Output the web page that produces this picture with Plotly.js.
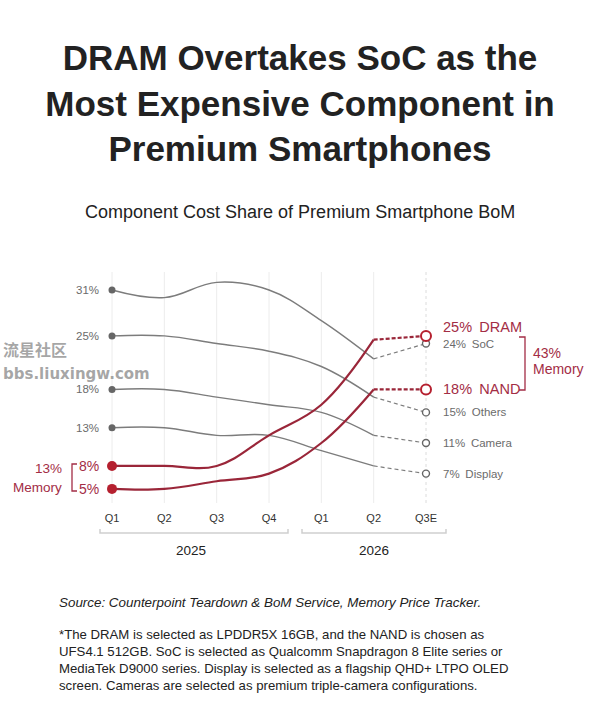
<!DOCTYPE html>
<html>
<head>
<meta charset="utf-8">
<script src="https://cdn.plot.ly/plotly-3.0.1.min.js"></script>
<style>
  html, body { margin: 0; padding: 0; background: #ffffff; }
  #chart { width: 600px; height: 728px; }
</style>
</head>
<body>
<div id="chart"></div>
<script>
// ---------------- data ----------------
const quarters = ['Q1', 'Q2', 'Q3', 'Q4', 'Q1', 'Q2', 'Q3E'];
const years = ['2025', '2026'];
const yearQuarterCounts = [4, 3];

const socShare     = [31, 30, 32, 31, 27, 22, 24];
const othersShare  = [25, 25, 24, 23, 21, 17, 15];
const cameraShare  = [18, 18, 17, 16, 15, 12, 11];
const displayShare = [13, 13, 12, 12, 10, 8, 7];
const dramShare    = [8, 8, 8, 12, 16, 24.5, 25];
const nandShare    = [5, 5, 6, 7, 11, 18, 18];

const seriesNames = ['SoC', 'Others', 'Camera', 'Display', 'DRAM', 'NAND'];

// ---------------- styling ----------------
const FONT = 'Liberation Sans, Arial, Helvetica, sans-serif';
const GRAY_LINE = '#7c7c7c';
const GRAY_MARK = '#666666';
const GRAY_TEXT = '#6b6b6b';
const RED_LINE = '#9a2639';
const RED_MARK = '#b5202f';
const RED_TEXT = '#a32d45';

const W = 600, H = 728;
const M = { l: 0, r: 0, t: 270, b: 223 };
const plotH = H - M.t - M.b;
const px = x => x / W;                      // pixel -> paper x
const py = y => (H - M.b - y) / plotH;      // pixel -> paper y

const xIdx = quarters.map((q, i) => i);
const lastI = quarters.length - 1;
const solidX = xIdx.slice(0, lastI);

const series = [
  { name: seriesNames[0], v: socShare, memory: false, yshift: 0 },
  { name: seriesNames[1], v: othersShare, memory: false, yshift: 0 },
  { name: seriesNames[2], v: cameraShare, memory: false, yshift: 0 },
  { name: seriesNames[3], v: displayShare, memory: false, yshift: 0 },
  { name: seriesNames[4], v: dramShare, memory: true, yshift: 9 },
  { name: seriesNames[5], v: nandShare, memory: true, yshift: 0 }
];

const traces = [];
const annotations = [];

series.forEach(s => {
  const lc = s.memory ? RED_LINE : GRAY_LINE;
  const mc = s.memory ? RED_MARK : GRAY_MARK;
  const lw = s.memory ? 2.2 : 1.4;
  traces.push({
    type: 'scatter', mode: 'lines', name: s.name, showlegend: false, hoverinfo: 'skip',
    x: solidX, y: s.v.slice(0, lastI),
    line: { color: lc, width: lw, shape: 'spline', smoothing: 1.1 }
  });
  traces.push({
    type: 'scatter', mode: 'lines', showlegend: false, hoverinfo: 'skip',
    x: xIdx.slice(lastI - 1), y: s.v.slice(lastI - 1),
    line: { color: lc, width: s.memory ? 2.2 : 1.2, dash: s.memory ? '4px,2px' : '4px,3px' }
  });
  traces.push({
    type: 'scatter', mode: 'markers', showlegend: false, hoverinfo: 'skip',
    x: [xIdx[0]], y: [s.v[0]],
    marker: { color: mc, size: s.memory ? 10 : 7, line: { width: 0 } }
  });
  traces.push({
    type: 'scatter', mode: 'markers', showlegend: false, hoverinfo: 'skip',
    x: [xIdx[lastI]], y: [s.v[lastI]],
    marker: { color: '#ffffff', size: s.memory ? 10 : 7, line: { color: s.memory ? RED_MARK : GRAY_MARK, width: s.memory ? 2 : 1.4 } }
  });
  annotations.push({
    xref: 'paper', yref: 'y', x: px(101), y: s.v[0], xanchor: 'right', yanchor: 'middle',
    text: s.v[0] + '%', showarrow: false,
    font: { family: FONT, size: s.memory ? 14 : 11.5, color: s.memory ? RED_TEXT : GRAY_TEXT }
  });
  annotations.push({
    xref: 'paper', yref: 'y', x: px(441), y: s.v[lastI], xanchor: 'left', yanchor: 'middle',
    yshift: s.yshift,
    text: s.v[lastI] + '%\u2002' + s.name, showarrow: false,
    font: { family: FONT, size: s.memory ? 14.5 : 11.5, color: s.memory ? RED_TEXT : GRAY_TEXT }
  });
});

// memory totals
const memStart = dramShare[0] + nandShare[0];
const memEnd = dramShare[lastI] + nandShare[lastI];

annotations.push(
  { xref: 'paper', yref: 'paper', x: px(64), y: py(468), xanchor: 'right', yanchor: 'middle',
    text: memStart + '%', showarrow: false, font: { family: FONT, size: 13.5, color: RED_TEXT } },
  { xref: 'paper', yref: 'paper', x: px(64), y: py(487), xanchor: 'right', yanchor: 'middle',
    text: 'Memory', showarrow: false, font: { family: FONT, size: 13.5, color: RED_TEXT } },
  { xref: 'paper', yref: 'paper', x: px(531), y: py(353), xanchor: 'left', yanchor: 'middle',
    text: memEnd + '%', showarrow: false, font: { family: FONT, size: 14, color: RED_TEXT } },
  { xref: 'paper', yref: 'paper', x: px(531), y: py(369), xanchor: 'left', yanchor: 'middle',
    text: 'Memory', showarrow: false, font: { family: FONT, size: 14, color: RED_TEXT } }
);

// year labels
let start = 0;
years.forEach((yr, i) => {
  const n = yearQuarterCounts[i];
  const c = start + (n - 1) / 2;
  annotations.push({
    xref: 'x', yref: 'paper', x: c, y: py(550), xanchor: 'center', yanchor: 'middle',
    text: yr, showarrow: false, font: { family: FONT, size: 13.5, color: '#222222' }
  });
  start += n;
});

// source + footnote
annotations.push({
  xref: 'paper', yref: 'paper', x: px(57), y: py(602), xanchor: 'left', yanchor: 'middle',
  text: '<i>Source: Counterpoint Teardown &amp; BoM Service, Memory Price Tracker.</i>',
  showarrow: false, font: { family: FONT, size: 13.4, color: '#222222' }
});
const footnoteLines = [
  '*The DRAM is selected as LPDDR5X 16GB, and the NAND is chosen as',
  'UFS4.1 512GB. SoC is selected as Qualcomm Snapdragon 8 Elite series or',
  'MediaTek D9000 series. Display is selected as a flagship QHD+ LTPO OLED',
  'screen. Cameras are selected as premium triple-camera configurations.'
];
footnoteLines.forEach((t, i) => {
  annotations.push({
    xref: 'paper', yref: 'paper', x: px(57), y: py(634 + i * 17), xanchor: 'left', yanchor: 'middle',
    text: t, showarrow: false, font: { family: FONT, size: 13.2, color: '#222222' }
  });
});

// subtitle
annotations.push({
  xref: 'paper', yref: 'paper', x: 0.5, y: py(212), xanchor: 'center', yanchor: 'middle',
  text: 'Component Cost Share of Premium Smartphone BoM', showarrow: false,
  font: { family: FONT, size: 18, color: '#222222' }
});

// watermark
annotations.push(
  { xref: 'paper', yref: 'paper', x: px(1), y: py(349), xanchor: 'left', yanchor: 'middle',
    text: '<b>流星社区</b>', showarrow: false,
    font: { family: 'Noto Sans CJK SC, sans-serif', size: 16, color: 'rgba(150,150,150,0.85)' } },
  { xref: 'paper', yref: 'paper', x: px(1), y: py(374), xanchor: 'left', yanchor: 'middle',
    text: '<b>bbs.liuxingw.com</b>', showarrow: false,
    font: { family: 'DejaVu Sans, sans-serif', size: 15, color: 'rgba(150,150,150,0.85)' } }
);

// ---------------- shapes ----------------
const shapes = [];
xIdx.forEach((x, i) => {
  shapes.push({
    type: 'line', xref: 'x', yref: 'paper', x0: x, x1: x, y0: py(503), y1: py(272),
    line: { color: i === lastI ? '#dcdcdc' : '#ececec', width: 1, dash: i === lastI ? '3px,3px' : 'solid' },
    layer: 'below'
  });
});
const bracketPx = [[100, 288], [302, 446]];
bracketPx.forEach(b => {
  shapes.push({
    type: 'path', xref: 'paper', yref: 'paper',
    path: `M ${px(b[0])} ${py(529)} L ${px(b[0])} ${py(533)} L ${px(b[1])} ${py(533)} L ${px(b[1])} ${py(529)}`,
    line: { color: '#cfcfcf', width: 1.5 }
  });
});
shapes.push({
  type: 'path', xref: 'paper', yref: 'paper',
  path: `M ${px(77)} ${py(464)} L ${px(72)} ${py(464)} L ${px(72)} ${py(491)} L ${px(77)} ${py(491)}`,
  line: { color: RED_TEXT, width: 1.3 }
});
shapes.push({
  type: 'path', xref: 'paper', yref: 'paper',
  path: `M ${px(519)} ${py(337)} L ${px(525)} ${py(337)} L ${px(525)} ${py(390)} L ${px(519)} ${py(390)}`,
  line: { color: RED_TEXT, width: 1.3 }
});

// ---------------- layout ----------------
const xUnit = (426 - 112) / 6;
const layout = {
  width: W, height: H,
  margin: M,
  paper_bgcolor: '#ffffff', plot_bgcolor: '#ffffff',
  showlegend: false,
  title: {
    text: '<b>DRAM Overtakes SoC as the<br>Most Expensive Component in<br>Premium Smartphones</b>',
    x: 0.5, xanchor: 'center', xref: 'paper',
    y: 1 - 70 / H, yanchor: 'top', yref: 'container',
    font: { family: FONT, size: 35, color: '#222222' }
  },
  xaxis: {
    range: [-112 / xUnit, 6 + (600 - 426) / xUnit],
    tickmode: 'array', tickvals: xIdx, ticktext: quarters,
    showgrid: false, zeroline: false, showline: false, ticks: '',
    ticklabelstandoff: 5,
    tickfont: { family: FONT, size: 11, color: '#333333' },
    fixedrange: true
  },
  yaxis: {
    range: [31 - (505 - 290) / 7.65, 31 + (290 - 270) / 7.65],
    visible: false, showgrid: false, zeroline: false, fixedrange: true
  },
  annotations: annotations,
  shapes: shapes
};

Plotly.newPlot('chart', traces, layout, { displayModeBar: false, staticPlot: true });
</script>
</body>
</html>
